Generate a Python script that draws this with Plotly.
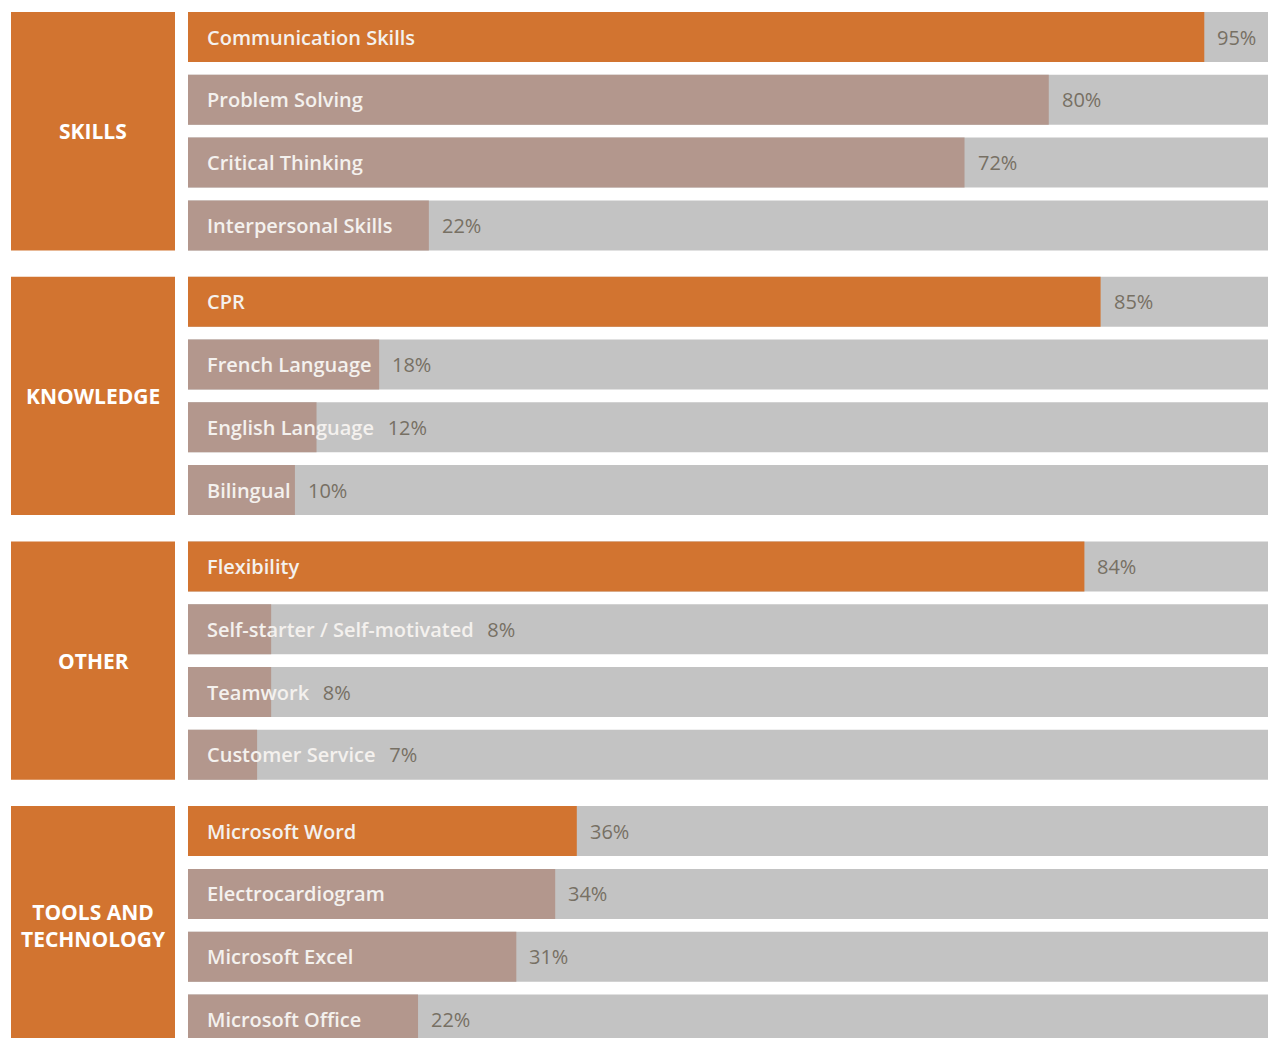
import plotly.graph_objects as go

# ---- data ----
groups = ["SKILLS", "KNOWLEDGE", "OTHER", "TOOLS AND<br>TECHNOLOGY"]
items = [
    ["Communication Skills", "Problem Solving", "Critical Thinking", "Interpersonal Skills"],
    ["CPR", "French Language", "English Language", "Bilingual"],
    ["Flexibility", "Self-starter / Self-motivated", "Teamwork", "Customer Service"],
    ["Microsoft Word", "Electrocardiogram", "Microsoft Excel", "Microsoft Office"],
]
values = [
    [94.1, 79.7, 71.9, 22.3],
    [84.5, 17.7, 11.9, 9.9],
    [83.0, 7.7, 7.7, 6.4],
    [36.0, 34.0, 30.4, 21.3],
]
pct_labels = [
    ["95%", "80%", "72%", "22%"],
    ["85%", "18%", "12%", "10%"],
    ["84%", "8%", "8%", "7%"],
    ["36%", "34%", "31%", "22%"],
]

# ---- style ----
ORANGE = "#D27430"
TAUPE = "#B3978D"
GRAY = "#C3C3C3"
LABEL_C = "#F4F1EE"
PCT_C = "#777064"
FONT = "Open Sans"
W, H = 1269, 1038
ROW_PX = 62.8
GROUP_STEP = 264.7 / ROW_PX
BAR_W = 50 / ROW_PX
BAR_PX = 1080  # pixel length of full (100%) bar
CHAR_PX = 9.5

fig = go.Figure()

ys, xs, cols, bg_y = [], [], [], []
annotations = []
for g, (gname, its, vals, pcts) in enumerate(zip(groups, items, values, pct_labels)):
    for r, (name, v, p) in enumerate(zip(its, vals, pcts)):
        y = g * GROUP_STEP + r
        ys.append(y)
        xs.append(v)
        cols.append(ORANGE if r == 0 else TAUPE)
        est_label_end = 19 + len(name) * CHAR_PX
        bar_end = v / 100 * BAR_PX
        if est_label_end > bar_end:
            annotations.append(dict(
                x=0, y=y, xref="x", yref="y", xanchor="left", yanchor="middle",
                xshift=17, showarrow=False,
                text=f"{name}\u00a0\u00a0\u2009<span style='color:{PCT_C};font-weight:400'>{p}</span>",
                font=dict(family=FONT, size=20, color=LABEL_C, weight=600)))
        else:
            annotations.append(dict(
                x=0, y=y, xref="x", yref="y", xanchor="left", yanchor="middle",
                xshift=17, showarrow=False, text=name,
                font=dict(family=FONT, size=20, color=LABEL_C, weight=600)))
            annotations.append(dict(
                x=v, y=y, xref="x", yref="y", xanchor="left", yanchor="middle",
                xshift=11, showarrow=False, text=p,
                font=dict(family=FONT, size=20, color=PCT_C, weight=400)))
    gy = g * GROUP_STEP + 1.5
    bg_y.append(gy)
    annotations.append(dict(
        x=0.5, y=gy, xref="x2", yref="y", xanchor="center", yanchor="middle",
        showarrow=False, text=f"<b>{gname}</b>",
        font=dict(family=FONT, size=21, color="white")))

# background full bars
fig.add_trace(go.Bar(x=[100] * len(ys), y=ys, orientation="h", width=BAR_W,
                     marker=dict(color=GRAY, line=dict(width=0)),
                     hoverinfo="skip", showlegend=False))
# value bars
fig.add_trace(go.Bar(x=xs, y=ys, orientation="h", width=BAR_W,
                     marker=dict(color=cols, line=dict(width=0)),
                     showlegend=False))
# group boxes
fig.add_trace(go.Bar(x=[1] * len(bg_y), y=bg_y, orientation="h",
                     width=3 + BAR_W, xaxis="x2", yaxis="y",
                     marker=dict(color=ORANGE, line=dict(width=0)),
                     hoverinfo="skip", showlegend=False))

top = -(12 + 25) / ROW_PX
bottom = (H - 37) / ROW_PX
fig.update_layout(
    width=W, height=H,
    margin=dict(l=0, r=0, t=0, b=0),
    paper_bgcolor="white", plot_bgcolor="rgba(0,0,0,0)",
    barmode="overlay",
    xaxis=dict(domain=[188 / W, 1268 / W], range=[0, 100], visible=False, fixedrange=True),
    xaxis2=dict(domain=[11 / W, 175 / W], range=[0, 1], visible=False, anchor="y"),
    yaxis=dict(range=[bottom, top], visible=False),
    annotations=annotations,
)

fig.write_html("out.html")
